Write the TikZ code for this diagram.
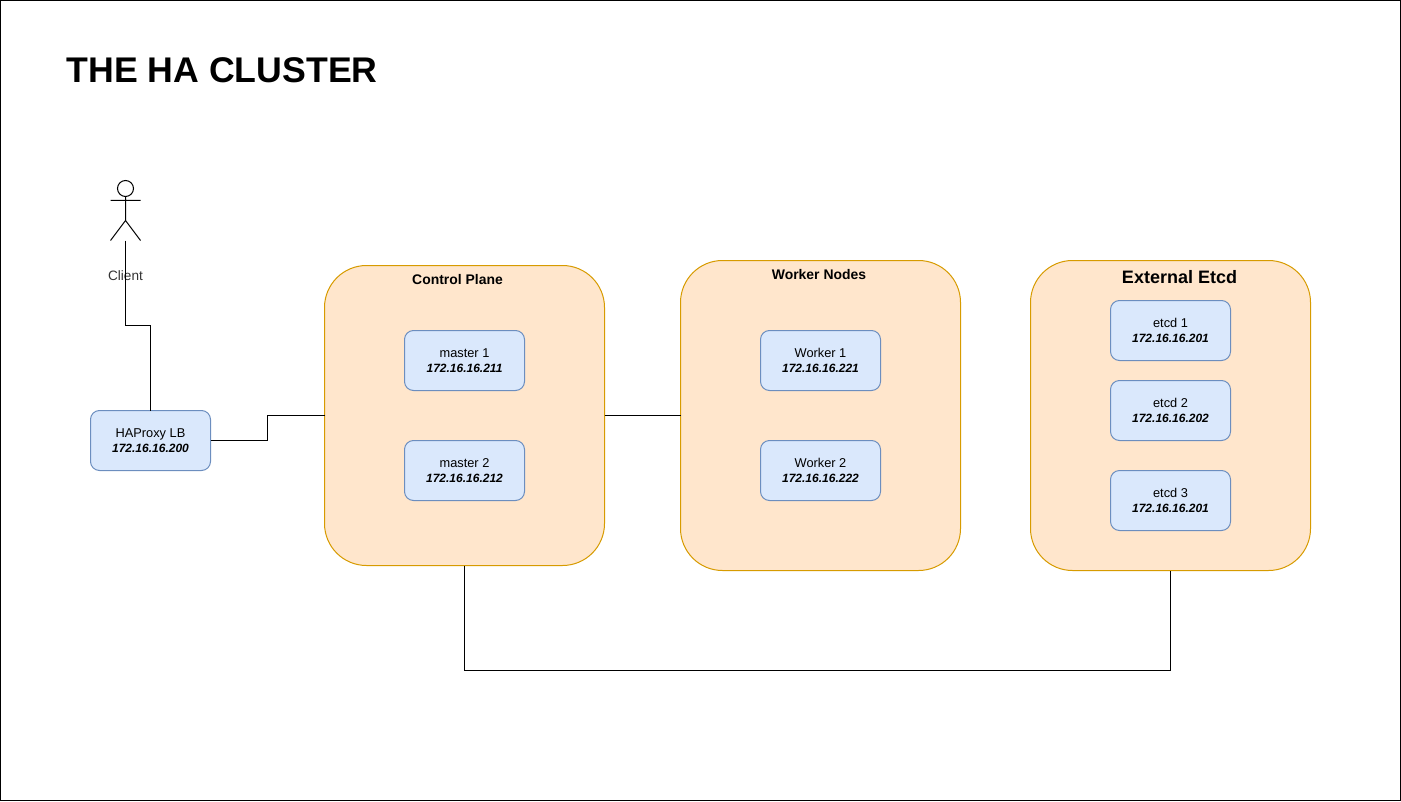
\documentclass[tikz,border=0pt]{standalone}
\usepackage{fontspec}
\setmainfont{Liberation Sans}
\usetikzlibrary{positioning}
\definecolor{boxfill}{HTML}{DAE8FC}
\definecolor{boxline}{HTML}{6C8EBF}
\definecolor{groupfill}{HTML}{FFE6CC}
\definecolor{groupline}{HTML}{D79B00}
\newcommand{\hostbox}[2]{{\fontsize{9.6}{10.8}\selectfont #1}\\{\fontsize{9}{10.8}\selectfont\textbf{\textit{#2}}}}
\begin{document}
\begin{tikzpicture}[x=0.75pt,y=-0.75pt,line width=0.75pt,node distance=37.5pt,
	group/.style={draw=groupline,fill=groupfill,rounded corners=31.5pt,minimum width=210pt,inner sep=0pt,outer sep=0pt},
	host/.style={draw=boxline,fill=boxfill,rounded corners=6.75pt,minimum width=90pt,minimum height=45pt,inner sep=0pt,outer sep=0pt,align=center,font=\fontsize{9}{10.8}\selectfont},
	grouptitle/.style={inner sep=0pt,font=\fontsize{10.45}{12}\selectfont\bfseries}]
	\useasboundingbox (0,0) rectangle (1401,802);
	\node[draw,minimum width=1050pt,minimum height=600pt,inner sep=0pt,outer sep=0pt] (frame) at (700.5,400.5) {};
	\node[anchor=west,inner sep=0pt,font=\fontsize{26.75}{32}\selectfont\bfseries] (title) at (66,70.5) {THE HA CLUSTER};
	% groups
	\node[group,minimum height=225pt] (control) at (464.5,415.5) {};
	\node[group,minimum height=232.5pt] (worker) at (820.5,415.5) {};
	\node[group,minimum height=232.5pt] (etcd) at (1170.5,415.5) {};
	\node[grouptitle] (control_t) at (457.5,280) {Control Plane};
	\node[grouptitle] (worker_t) at (819,275) {Worker Nodes};
	\node[grouptitle,font=\fontsize{13.5}{16}\selectfont\bfseries] (etcd_t) at (1179.5,277) {External Etcd};
	% hosts
	\node[host] (lb) at (150.5,440.5) {\hostbox{HAProxy LB}{172.16.16.200}};
	\node[host,below=48.75pt of control.north] (master_1) {\hostbox{master 1}{172.16.16.211}};
	\node[host,below=of master_1] (master_2) {\hostbox{master 2}{172.16.16.212}};
	\node[host,below=52.5pt of worker.north] (worker_1) {\hostbox{Worker 1}{172.16.16.221}};
	\node[host,below=of worker_1] (worker_2) {\hostbox{Worker 2}{172.16.16.222}};
	\node[host,below=30pt of etcd.north] (etcd_1) {\hostbox{etcd 1}{172.16.16.201}};
	\node[host,below=15pt of etcd_1] (etcd_2) {\hostbox{etcd 2}{172.16.16.202}};
	\node[host,below=22.5pt of etcd_2] (etcd_3) {\hostbox{etcd 3}{172.16.16.201}};
	% client
	\node[draw,circle,minimum size=12pt,inner sep=0pt,outer sep=0pt] (head) at (125.5,188.5) {};
	\coordinate (hip) at (125.5,220.5);
	\coordinate (foot_l) at (110.5,240.5);
	\coordinate (foot_r) at (140.5,240.5);
	\coordinate (arm_l) at (110.5,200.5);
	\coordinate (arm_r) at (140.5,200.5);
	\coordinate (client_b) at (125.5,240.5);
	\draw (head.south) -- (hip) (arm_l) -- (arm_r) (foot_l) -- (hip) -- (foot_r);
	\node[inner sep=0pt,text=black!80,font=\fontsize{10.2}{12}\selectfont] (client) at (125.5,276) {Client};
	% links
	\draw (client_b) -- (125.5,325.5) -| (lb.north);
	\draw (lb.east) -- (267.5,440.5) |- (control.west);
	\draw (control.east) -- (worker.west);
	\draw (control.south) |- (1170.5,670.5) -- (etcd.south);
\end{tikzpicture}
\end{document}
